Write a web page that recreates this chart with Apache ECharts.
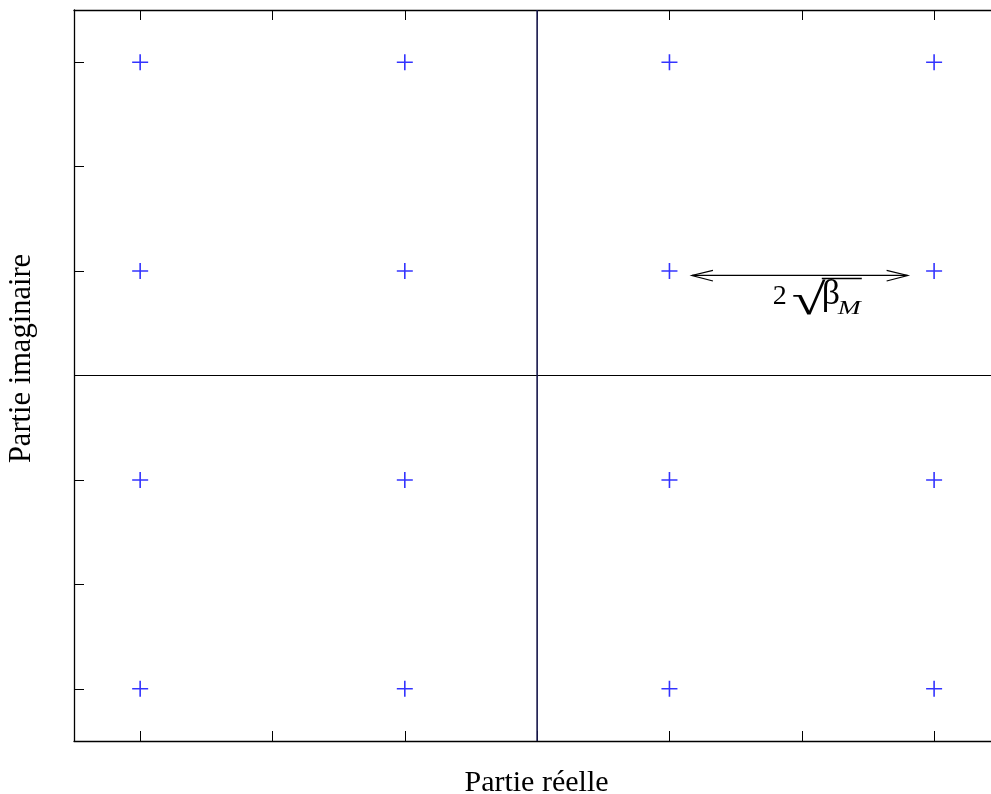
<!DOCTYPE html>
<html>
<head>
<meta charset="utf-8">
<script src="https://cdn.jsdelivr.net/npm/echarts@6/dist/echarts.min.js"></script>
<style>html,body{margin:0;padding:0;background:#fff}#c{width:991px;height:794px}</style>
</head>
<body>
<div id="c"></div>
<script>
// Constellation points (16-QAM): real and imaginary parts
var levels = [-3, -1, 1, 3];
var points = [];
levels.forEach(function (re) { levels.forEach(function (im) { points.push([re, im]); }); });
var tickValues = [-3, -2, -1, 0, 1, 2, 3];
var xRange = [-3.5, 3.43];
var yRange = [-3.5, 3.5];
var verticalLine = [[0, -3.5], [0, 3.5]];
var horizontalLine = [[-3.5, 0], [3.43, 0]];
var arrowEnds = [[1.17, 0.958], [2.80, 0.958]];
var xName = 'Partie réelle';
var yName = 'Partie imaginaire';

var serif = '"Liberation Serif", "DejaVu Serif", serif';
var chart = echarts.init(document.getElementById('c'));
var plus = 'path://M7.2,0 H8.8 V7.2 H16 V8.8 H8.8 V16 H7.2 V8.8 H0 V7.2 H7.2 Z';

function axisBase(pos, range) {
  return {
    type: 'value', position: pos, min: range[0], max: range[1],
    axisLine: { show: true, onZero: false, lineStyle: { color: '#000', width: 1.3 } },
    axisTick: { show: true, inside: true, length: 10, customValues: tickValues, lineStyle: { color: '#000', width: 1 } },
    axisLabel: { show: false },
    splitLine: { show: false }
  };
}
var xb = axisBase('bottom', xRange);
xb.name = xName; xb.nameLocation = 'middle'; xb.nameGap = 27;
xb.nameTextStyle = { fontFamily: serif, fontSize: 30, color: '#000', padding: [0, 0, 0, 8] };
var xt = axisBase('top', xRange);
var yl = axisBase('left', yRange);
yl.name = yName; yl.nameLocation = 'middle'; yl.nameGap = 37;
yl.nameTextStyle = { fontFamily: serif, fontSize: 30.5, color: '#000', padding: [0, 0, 0, 34] };

chart.setOption({
  animation: false,
  grid: { left: 74, top: 10, width: 917, height: 731, outerBoundsMode: 'none', containLabel: false },
  xAxis: [xb, xt],
  yAxis: [yl],
  series: [
    { type: 'line', data: horizontalLine, symbol: 'none', lineStyle: { color: '#000', width: 1.2 }, silent: true },
    { type: 'line', data: verticalLine, symbol: 'none', lineStyle: { color: '#15154a', width: 1.6 }, silent: true },
    { type: 'scatter', data: points, symbol: plus, symbolSize: 16, itemStyle: { color: '#0000ff' } },
    {
      type: 'custom', data: [0], silent: true,
      renderItem: function (params, api) {
        var p1 = api.coord(arrowEnds[0]);
        var p2 = api.coord(arrowEnds[1]);
        var y = p1[1];
        var cx = (p1[0] + p2[0]) / 2;
        var ls = { stroke: '#000', lineWidth: 1.2, fill: null };
        return {
          type: 'group',
          children: [
            { type: 'line', shape: { x1: p1[0], y1: y, x2: p2[0], y2: y }, style: ls },
            { type: 'polyline', shape: { points: [[p1[0] + 21, y - 5], [p1[0], y], [p1[0] + 21, y + 5.5]] }, style: ls },
            { type: 'polyline', shape: { points: [[p2[0] - 21, y - 5], [p2[0], y], [p2[0] - 21, y + 5.5]] }, style: ls },
            { type: 'text', x: cx - 27, y: y + 7.5, style: { text: '2', font: '28px ' + serif, fill: '#000', verticalAlign: 'top' } },
            { type: 'text', x: cx - 8, y: y + 5, scaleX: 1.4, style: { text: '√', font: '44px ' + serif, fill: '#000', verticalAlign: 'top' } },
            { type: 'text', x: cx + 22, y: y + 1, style: { text: 'β', font: '36px ' + serif, fill: '#000', verticalAlign: 'top' } },
            { type: 'text', x: cx + 38, y: y + 24.5, scaleX: 1.45, style: { text: 'M', font: 'italic 19px ' + serif, fill: '#000', verticalAlign: 'top' } },
            { type: 'line', shape: { x1: cx + 22, y1: y + 3, x2: cx + 62, y2: y + 3 }, style: { stroke: '#000', lineWidth: 1.6 } }
          ]
        };
      }
    }
  ]
});
</script>
</body>
</html>
